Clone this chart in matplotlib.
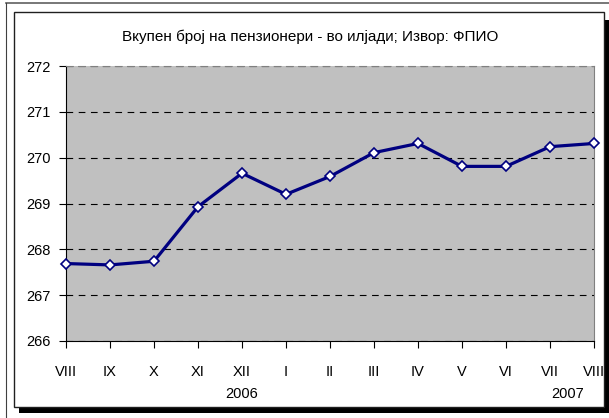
import matplotlib
matplotlib.use("Agg")
import matplotlib.pyplot as plt
from matplotlib.patches import Rectangle
from matplotlib.lines import Line2D

months = ["VIII", "IX", "X", "XI", "XII", "I", "II", "III", "IV", "V", "VI", "VII", "VIII"]
pensioners = [267.69, 267.66, 267.74, 268.93, 269.66, 269.20, 269.59, 270.11, 270.31, 269.81, 269.81, 270.24, 270.31]
years = ["2006", "2007"]
year_pos = [4, 11.4]
title = "Вкупен број на пензионери - во илјади; Извор: ФПИО"

W, H = 609, 418
plt.rcParams["font.family"] = ["Liberation Sans", "DejaVu Sans"]

fig = plt.figure(figsize=(W / 100, H / 100), dpi=100)


def fx(px):
    return px / W


def fy(py):
    return 1 - py / H


# outer screenshot edges
fig.add_artist(Line2D([fx(6), fx(609)], [fy(3), fy(3)], color="#606060", lw=1.2, zorder=-2))
fig.add_artist(Line2D([fx(6), fx(6)], [fy(3), fy(418)], color="#404040", lw=0.8, zorder=-2))

# chart frame with shadow
fig.add_artist(Rectangle((fx(604), fy(413)), fx(5), (413 - 20) / H, color="black", lw=0, zorder=-2))
fig.add_artist(Rectangle((fx(19), fy(413)), fx(590), 5 / H, color="black", lw=0, zorder=-2))
fig.add_artist(Rectangle((fx(14), fy(407)), fx(590), (407 - 12) / H,
                         facecolor="white", edgecolor="#202020", lw=1.0, zorder=-1))

ax = fig.add_axes([fx(66), fy(341), fx(594 - 66), (341 - 66) / H])
ax.set_facecolor("#C0C0C0")
x = list(range(len(months)))
ax.plot(x, pensioners, color="#000080", lw=2.3, marker="D", markersize=5.5,
        markerfacecolor="white", markeredgecolor="#000080", markeredgewidth=1.2,
        clip_on=False, zorder=5)

ax.set_xlim(0, len(months) - 1)
ax.set_ylim(266, 272)
ax.set_yticks(range(266, 273))
ax.set_xticks(x)
ax.set_xticklabels(months)
ax.yaxis.grid(True, color="black", linestyle=(0, (6, 5)), lw=0.8)
ax.set_axisbelow(True)

for side in ["top", "right"]:
    ax.spines[side].set_color("#808080")
ax.spines["top"].set_linestyle((0, (6, 5)))
ax.spines["left"].set_color("black")
ax.spines["bottom"].set_color("black")
ax.tick_params(axis="both", direction="out", length=5, width=0.8, labelsize=10.5, colors="black")
ax.tick_params(axis="x", pad=12)
ax.tick_params(axis="y", pad=6)

for pos, yr in zip(year_pos, years):
    ax.text(pos, -0.193, yr, transform=ax.get_xaxis_transform(), ha="center", va="center", fontsize=10.5)

fig.text(fx(310), fy(37), title, ha="center", va="center", fontsize=11)

fig.savefig("out.png", dpi=100)
